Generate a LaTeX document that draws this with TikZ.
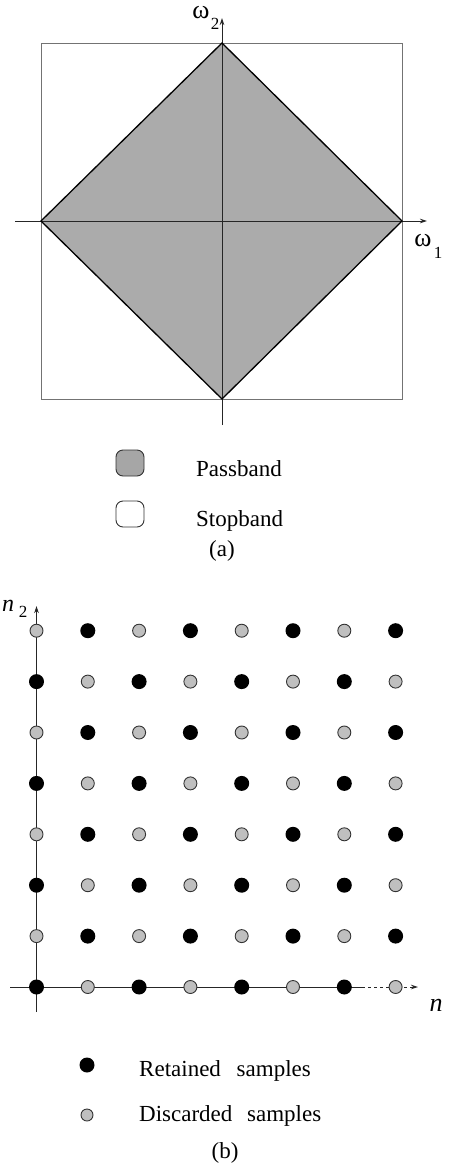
\documentclass[tikz,border=0pt]{standalone}
\usepackage{fontspec}
\setmainfont{Liberation Serif}
\usetikzlibrary{arrows.meta}
\begin{document}
\begin{tikzpicture}[x=1pt,y=-1pt,
  axis/.style={line width=0.9pt, draw=black!85},
  tip/.style={-{Stealth[length=7pt,width=4.5pt]}},
  txt/.style={inner sep=0pt, font=\fontsize{23}{27}\selectfont},
  sym/.style={inner sep=0pt, font=\fontsize{26}{29}\selectfont},
  sub/.style={inner sep=0pt, font=\fontsize{17}{20}\selectfont},
  key/.style={draw=black!80, line width=0.9pt, rounded corners=7pt,
              minimum width=28pt, minimum height=26pt, inner sep=0pt},
  ret/.style={circle, fill=black, minimum size=15pt, inner sep=0pt},
  dis/.style={circle, fill=black!25, draw=black!80, line width=0.9pt,
              minimum size=13pt, inner sep=0pt},
]
\useasboundingbox (0,0) rectangle (450,1167);

% ---------- (a) frequency plane ----------
\coordinate (T) at (222,43);
\coordinate (B) at (222,399);
\coordinate (L) at (41,221);
\coordinate (R) at (402,221);
\coordinate (NW) at (41,43);
\coordinate (SE) at (402,399);
\coordinate (h0) at (15,221);
\coordinate (h1) at (427,221);
\coordinate (v0) at (222,425);
\coordinate (v1) at (222,18);

\fill[black!33] (T) -- (R) -- (B) -- (L) -- cycle;
\draw[black!55, line width=0.8pt] (NW) rectangle (SE);
\draw[axis,tip] (h0) -- (h1);
\draw[axis,tip] (v0) -- (v1);
\draw[line width=1.3pt, line join=miter] (T) -- (R) -- (B) -- (L) -- cycle;

\node[sym] (w2) at (201,13) {ω};
\node[sub] (w2s) at (215,24) {2};
\node[sym] (w1) at (423,241) {ω};
\node[sub] (w1s) at (438,253) {1};

% legend
\node[key, fill=black!35] (kp) at (130,463) {};
\node[txt, anchor=base west] (tp) at (196,476) {Passband};
\node[key, fill=white] (ks) at (130,514) {};
\node[txt, anchor=base west] (ts) at (196,526) {Stopband};
\node[txt] (capa) at (222,551) {(a)};

% ---------- (b) sampling lattice ----------
\coordinate (y0) at (36.5,1012);
\coordinate (y1) at (36.5,606);
\coordinate (x0) at (10,987);
\coordinate (xm) at (362,987);
\coordinate (x1) at (418,987);
\draw[axis,tip] (y0) -- (y1);
\draw[axis] (x0) -- (xm);
\draw[axis,dashed,tip] (xm) -- (x1);

\foreach \i in {0,...,7}{
  \foreach \j in {0,...,7}{
    \pgfmathtruncatemacro\pty{mod(\i+\j,2)}
    \ifnum\pty=0
      \node[ret] (d\i\j) at ({36.5+51.3*\i},{987-50.9*\j}) {};
    \else
      \node[dis] (d\i\j) at ({36.5+51.3*\i},{987-50.9*\j}) {};
    \fi
  }
}

\node[sym, font=\fontsize{24}{28}\selectfont\itshape] (n2) at (8,606) {n};
\node[sub] (n2s) at (23,612) {2};
\node[sym, font=\fontsize{26}{30}\selectfont\itshape] (n1) at (436,1005) {n};

% legend
\node[ret] (kr) at (87,1065) {};
\node[txt, anchor=base west] (tr) at (139,1076) {Retained\hspace{10pt} samples};
\node[dis, minimum size=12pt] (kd) at (87,1115) {};
\node[txt, anchor=base west] (td) at (139,1121) {Discarded\hspace{9pt} samples};
\node[txt] (capb) at (225,1153) {(b)};
\end{tikzpicture}
\end{document}
